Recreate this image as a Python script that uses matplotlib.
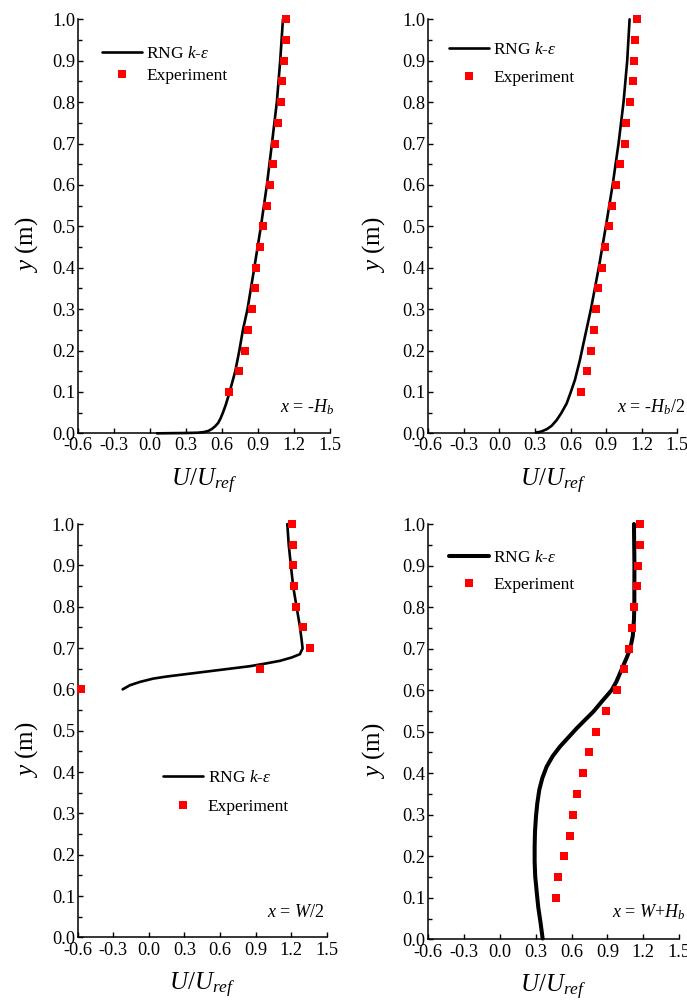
import matplotlib
matplotlib.use("Agg")
import matplotlib.pyplot as plt
from matplotlib.ticker import MultipleLocator, FixedLocator

plt.rcParams['font.family'] = ['Liberation Serif', 'DejaVu Serif']
plt.rcParams['mathtext.fontset'] = 'custom'
plt.rcParams['mathtext.rm'] = 'Liberation Serif'
plt.rcParams['mathtext.it'] = 'Liberation Serif:italic'
plt.rcParams['mathtext.bf'] = 'Liberation Serif:bold'
plt.rcParams['axes.unicode_minus'] = False

# ---------------- data ----------------
y_exp = [0.10, 0.15, 0.20, 0.25, 0.30, 0.35, 0.40, 0.45, 0.50, 0.55,
         0.60, 0.65, 0.70, 0.75, 0.80, 0.85, 0.90, 0.95, 1.00]

# panel 1 : x = -Hb
u_exp_1 = [0.663, 0.741, 0.794, 0.819, 0.849, 0.874, 0.885, 0.916, 0.947, 0.977,
           1.002, 1.027, 1.044, 1.066, 1.094, 1.105, 1.119, 1.133, 1.139]
y_cfd_1 = [0.0, 0.0008, 0.0015, 0.003, 0.006, 0.011, 0.017, 0.025, 0.036, 0.05,
           0.07, 0.10, 0.15, 0.20, 0.25, 0.30, 0.40, 0.50, 0.60, 0.70,
           0.80, 0.90, 1.00]
u_cfd_1 = [0.06, 0.30, 0.40, 0.45, 0.49, 0.52, 0.545, 0.57, 0.59, 0.61,
           0.635, 0.666, 0.713, 0.747, 0.777, 0.815, 0.872, 0.927, 0.977, 1.019,
           1.060, 1.088, 1.111]

# panel 2 : x = -Hb/2
u_exp_2 = [0.690, 0.738, 0.769, 0.797, 0.814, 0.831, 0.862, 0.890, 0.927, 0.949,
           0.983, 1.019, 1.059, 1.070, 1.098, 1.123, 1.135, 1.143, 1.157]
y_cfd_2 = [0.002, 0.004, 0.010, 0.018, 0.032, 0.048, 0.072, 0.098, 0.129, 0.177,
           0.233, 0.30, 0.40, 0.50, 0.60, 0.70, 0.80, 0.90, 1.00]
u_cfd_2 = [0.31, 0.35, 0.40, 0.44, 0.483, 0.52, 0.567, 0.60, 0.637, 0.679,
           0.721, 0.772, 0.838, 0.898, 0.955, 1.005, 1.047, 1.078, 1.098]

# panel 3 : x = W/2
y_exp_3 = [0.60, 0.65, 0.70, 0.75, 0.80, 0.85, 0.90, 0.95, 1.00]
u_exp_3 = [-0.569, 0.941, 1.357, 1.303, 1.241, 1.225, 1.213, 1.216, 1.205]
y_cfd_3 = [0.600, 0.610, 0.618, 0.626, 0.631, 0.636, 0.641, 0.646, 0.651, 0.656,
           0.663, 0.669, 0.677, 0.685, 0.699, 0.719, 0.752, 0.800, 0.848, 0.897,
           0.950, 1.000]
u_cfd_3 = [-0.221, -0.159, -0.075, 0.037, 0.150, 0.290, 0.431, 0.572, 0.712, 0.853,
           0.994, 1.106, 1.204, 1.274, 1.297, 1.289, 1.274, 1.246, 1.218, 1.199,
           1.180, 1.168]

# panel 4 : x = W+Hb
u_exp_4 = [0.467, 0.489, 0.539, 0.584, 0.612, 0.645, 0.696, 0.749, 0.807, 0.891,
           0.978, 1.039, 1.081, 1.103, 1.123, 1.148, 1.154, 1.170, 1.170]
y_cfd_4 = [0.002, 0.039, 0.078, 0.115, 0.151, 0.187, 0.223, 0.259, 0.295, 0.327,
           0.360, 0.388, 0.416, 0.441, 0.464, 0.486, 0.508, 0.528, 0.548, 0.572,
           0.600, 0.620, 0.650, 0.680, 0.700, 0.730, 0.770, 0.800, 0.900, 1.000]
u_cfd_4 = [0.358, 0.341, 0.321, 0.308, 0.296, 0.291, 0.291, 0.294, 0.302, 0.313,
           0.330, 0.355, 0.392, 0.442, 0.503, 0.573, 0.643, 0.712, 0.782, 0.852,
           0.936, 0.975, 1.020, 1.065, 1.092, 1.113, 1.123, 1.126, 1.127, 1.123]

x_ticks = [-0.6, -0.3, 0.0, 0.3, 0.6, 0.9, 1.2, 1.5]
x_ticklabels = ['-0.6', '-0.3', '0.0', '0.3', '0.6', '0.9', '1.2', '1.5']
y_ticks = [0.0, 0.1, 0.2, 0.3, 0.4, 0.5, 0.6, 0.7, 0.8, 0.9, 1.0]
y_ticklabels = ['0.0', '0.1', '0.2', '0.3', '0.4', '0.5', '0.6', '0.7', '0.8', '0.9', '1.0']

cfd_label = r'RNG $k$-$\varepsilon$'
exp_label = 'Experiment'
annotations = [r'$x$ = -$H_b$', r'$x$ = -$H_b$/2', r'$x$ = $W$/2', r'$x$ = $W$+$H_b$']

# ---------------- figure ----------------
fig = plt.figure(figsize=(6.87, 10.01), dpi=100)

positions = [
    [0.1135, 0.5671, 0.3662, 0.4136],
    [0.6234, 0.5671, 0.3624, 0.4136],
    [0.1131, 0.0636, 0.3624, 0.4129],
    [0.6234, 0.0616, 0.3649, 0.4149],
]
panels = [
    (y_exp, u_exp_1, y_cfd_1, u_cfd_1),
    (y_exp, u_exp_2, y_cfd_2, u_cfd_2),
    (y_exp_3, u_exp_3, y_cfd_3, u_cfd_3),
    (y_exp, u_exp_4, y_cfd_4, u_cfd_4),
]
line_widths = [1.9, 1.9, 1.9, 2.9]
legend_anchor = [(0.095, 0.936), (0.083, 0.946), (0.344, 0.405), (0.083, 0.937)]
legend_spacing = [0.32, 0.72, 0.72, 0.60]
annot_pos = [(0.804, 0.052), (0.757, 0.052), (0.761, 0.050), (0.731, 0.054)]

FS = 13.2
for i, pos in enumerate(positions):
    ax = fig.add_axes(pos)
    ye, ue, yc, uc = panels[i]
    ln, = ax.plot(uc, yc, color='black', lw=line_widths[i], label=cfd_label,
                  solid_capstyle='round', solid_joinstyle='round', clip_on=False, zorder=3)
    mk, = ax.plot(ue, ye, linestyle='none', marker='s', ms=6.3, mfc='#ff0000',
                  mec='#ff0000', mew=0, label=exp_label, clip_on=False, zorder=4)
    ax.set_xlim(-0.6, 1.5)
    ax.set_ylim(0.0, 1.0)
    ax.spines['top'].set_visible(False)
    ax.spines['right'].set_visible(False)
    for s in ('left', 'bottom'):
        ax.spines[s].set_linewidth(1.1)
    ax.xaxis.set_major_locator(FixedLocator(x_ticks))
    ax.set_xticklabels(x_ticklabels)
    ax.yaxis.set_major_locator(FixedLocator(y_ticks))
    ax.set_yticklabels(y_ticklabels)
    ax.yaxis.set_minor_locator(MultipleLocator(0.05))
    ax.tick_params(which='major', direction='in', length=3.5, width=1.0,
                   labelsize=FS)
    ax.tick_params(axis='x', which='major', pad=3)
    ax.tick_params(axis='y', which='major', pad=2)
    ax.tick_params(which='minor', direction='in', length=3.0, width=1.0)
    ax.set_xlabel(r'$U/U_{ref}$', fontsize=18)
    ax.set_ylabel(r'$y$ (m)', fontsize=18)
    ax.xaxis.set_label_coords(0.5, -0.082)
    ax.yaxis.set_label_coords(-0.15 if i % 2 == 0 else -0.165, 0.455)
    ax.legend(handles=[ln, mk], loc='upper left', bbox_to_anchor=legend_anchor[i],
              frameon=False, fontsize=12.5, handlelength=2.3, handletextpad=0.25,
              labelspacing=legend_spacing[i], borderpad=0, borderaxespad=0,
              numpoints=1)
    ax.text(annot_pos[i][0], annot_pos[i][1], annotations[i], transform=ax.transAxes,
            fontsize=13, ha='left', va='baseline', clip_on=False)

fig.savefig('out.png', dpi=100)
